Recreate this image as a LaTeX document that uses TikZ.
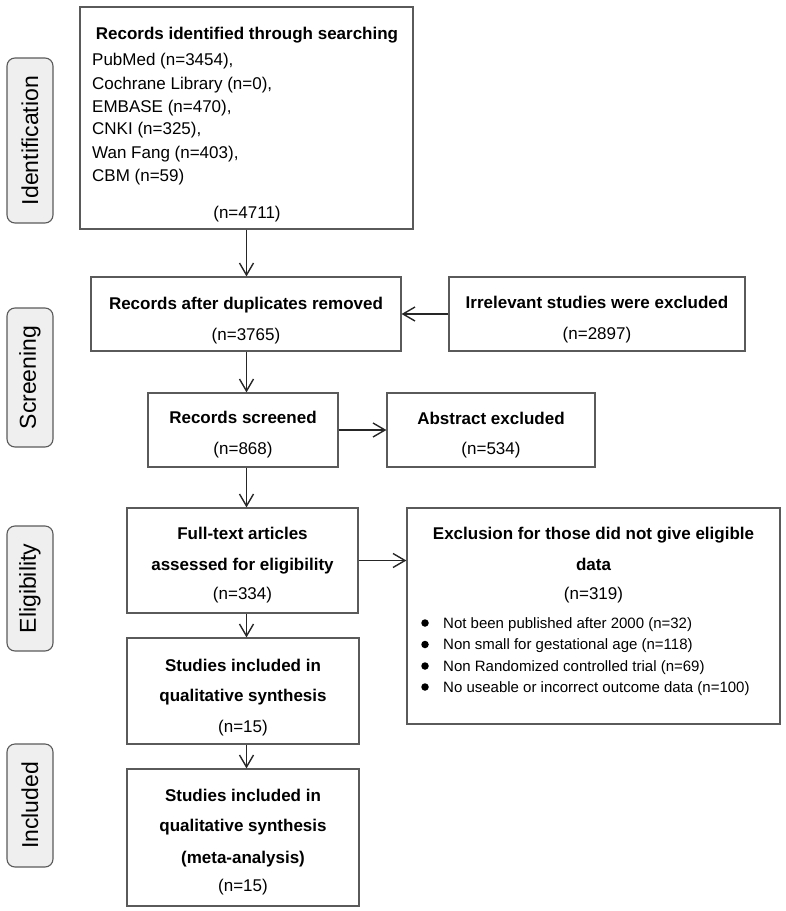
\documentclass[tikz,border=0pt]{standalone}
\usepackage{fontspec}
\setmainfont{Liberation Sans}
\usetikzlibrary{arrows.meta,calc}
\definecolor{boxline}{HTML}{5A5A5A}
\definecolor{lblfill}{HTML}{EFEFEF}
\definecolor{arrcol}{HTML}{262626}
\begin{document}
\begin{tikzpicture}[x=1pt,y=-1pt,
  box/.style={draw=boxline, line width=1.2pt, fill=white, inner sep=0pt},
  lbl/.style={draw=boxline, line width=1.1pt, fill=lblfill, rounded corners=8pt, inner sep=0pt, rotate=90, font=\fontsize{23}{26}\selectfont},
  ttl/.style={anchor=base, font=\fontsize{17}{20}\selectfont\bfseries, inner sep=0pt},
  txt/.style={anchor=base, font=\fontsize{17}{20}\selectfont, inner sep=0pt},
  ltxt/.style={anchor=base west, font=\fontsize{17}{20}\selectfont, inner sep=0pt},
  btxt/.style={anchor=base west, font=\fontsize{15}{18}\selectfont, inner sep=0pt},
  bul/.style={circle, fill=black, inner sep=0pt, minimum size=7.5pt},
  arr/.style={draw=arrcol, line width=1.4pt, -{Straight Barb[length=12pt,width=14pt]}},
]
\useasboundingbox (0,0) rectangle (786,911);

% stage labels
\node[lbl, minimum width=165pt, minimum height=46pt] (lid) at (30,140.5) {Identification};
\node[lbl, minimum width=139pt, minimum height=46pt] (lsc) at (30,377.5) {Screening};
\node[lbl, minimum width=125pt, minimum height=46pt] (lel) at (30,588.5) {Eligibility};
\node[lbl, minimum width=123pt, minimum height=46pt] (lin) at (30,805.5) {Included};

% boxes
\node[box, minimum width=333pt, minimum height=222pt] (top) at (246.5,118) {};
\node[box, minimum width=310pt, minimum height=74pt] (dup) at (246,314) {};
\node[box, minimum width=296pt, minimum height=74pt] (irr) at (597,314) {};
\node[box, minimum width=190pt, minimum height=74pt] (scr) at (243,430) {};
\node[box, minimum width=208pt, minimum height=74pt] (abs) at (491,430) {};
\node[box, minimum width=231pt, minimum height=105pt] (ft) at (242.5,560.5) {};
\node[box, minimum width=373pt, minimum height=216pt] (excl) at (593.5,616) {};
\node[box, minimum width=232pt, minimum height=106pt] (s1) at (243,691) {};
\node[box, minimum width=232pt, minimum height=137pt] (s2) at (243,837.5) {};

% top box text
\node[ttl] (t0) at (247,39) {Records identified through searching};
\node[ltxt] (t1) at (92,65.5) {PubMed (n=3454),};
\node[ltxt] (t2) at (92,89) {Cochrane Library (n=0),};
\node[ltxt] (t3) at (92,112) {EMBASE (n=470),};
\node[ltxt] (t4) at (92,134.5) {CNKI (n=325),};
\node[ltxt] (t5) at (92,158) {Wan Fang (n=403),};
\node[ltxt] (t6) at (92,181) {CBM (n=59)};
\node[txt] (t7) at (247,218) {(n=4711)};

% duplicates
\node[ttl] (d1) at (246,309) {Records after duplicates removed};
\node[txt] (d2) at (246,340) {(n=3765)};
% irrelevant
\node[ttl] (i1) at (597,308) {Irrelevant studies were excluded};
\node[txt] (i2) at (597,339) {(n=2897)};
% screened
\node[ttl] (sc1) at (243,423) {Records screened};
\node[txt] (sc2) at (243,454) {(n=868)};
% abstract
\node[ttl] (a1) at (491,424) {Abstract excluded};
\node[txt] (a2) at (491,454) {(n=534)};
% full text
\node[ttl] (f1) at (242.5,539) {Full-text articles};
\node[ttl] (f2) at (242.5,570) {assessed for eligibility};
\node[txt] (f3) at (242.5,599.5) {(n=334)};
% exclusion
\node[ttl] (e1) at (593.5,539) {Exclusion for those did not give eligible};
\node[ttl] (e2) at (593.5,570) {data};
\node[txt] (e3) at (593.5,599.5) {(n=319)};
\node[bul] (b1) at (425,623) {};
\node[bul] (b2) at (425,644.5) {};
\node[bul] (b3) at (425,666) {};
\node[bul] (b4) at (425,687) {};
\node[btxt] (e4) at (443,628) {Not been published after 2000 (n=32)};
\node[btxt] (e5) at (443,649.5) {Non small for gestational age (n=118)};
\node[btxt] (e6) at (443,671) {Non Randomized controlled trial (n=69)};
\node[btxt] (e7) at (443,692) {No useable or incorrect outcome data (n=100)};
% studies 1
\node[ttl] (u1) at (243,671) {Studies included in};
\node[ttl] (u2) at (243,701) {qualitative synthesis};
\node[txt] (u3) at (243,732) {(n=15)};
% studies 2
\node[ttl] (v1) at (243,801) {Studies included in};
\node[ttl] (v2) at (243,831) {qualitative synthesis};
\node[ttl] (v3) at (243,863) {(meta-analysis)};
\node[txt] (v4) at (243,891) {(n=15)};

% connectors
\coordinate (ax) at (246.5,0);
\draw[arr] (top.south -| ax) -- (dup.north -| ax);
\draw[arr] (irr.west) -- (dup.east);
\draw[arr] (dup.south -| ax) -- (scr.north -| ax);
\draw[arr] (scr.east) -- (abs.west);
\draw[arr] (scr.south -| ax) -- (ft.north -| ax);
\draw[arr] (ft.east) -- (excl.west |- ft.east);
\draw[arr] (ft.south -| ax) -- (s1.north -| ax);
\draw[arr] (s1.south -| ax) -- (s2.north -| ax);
\end{tikzpicture}
\end{document}
